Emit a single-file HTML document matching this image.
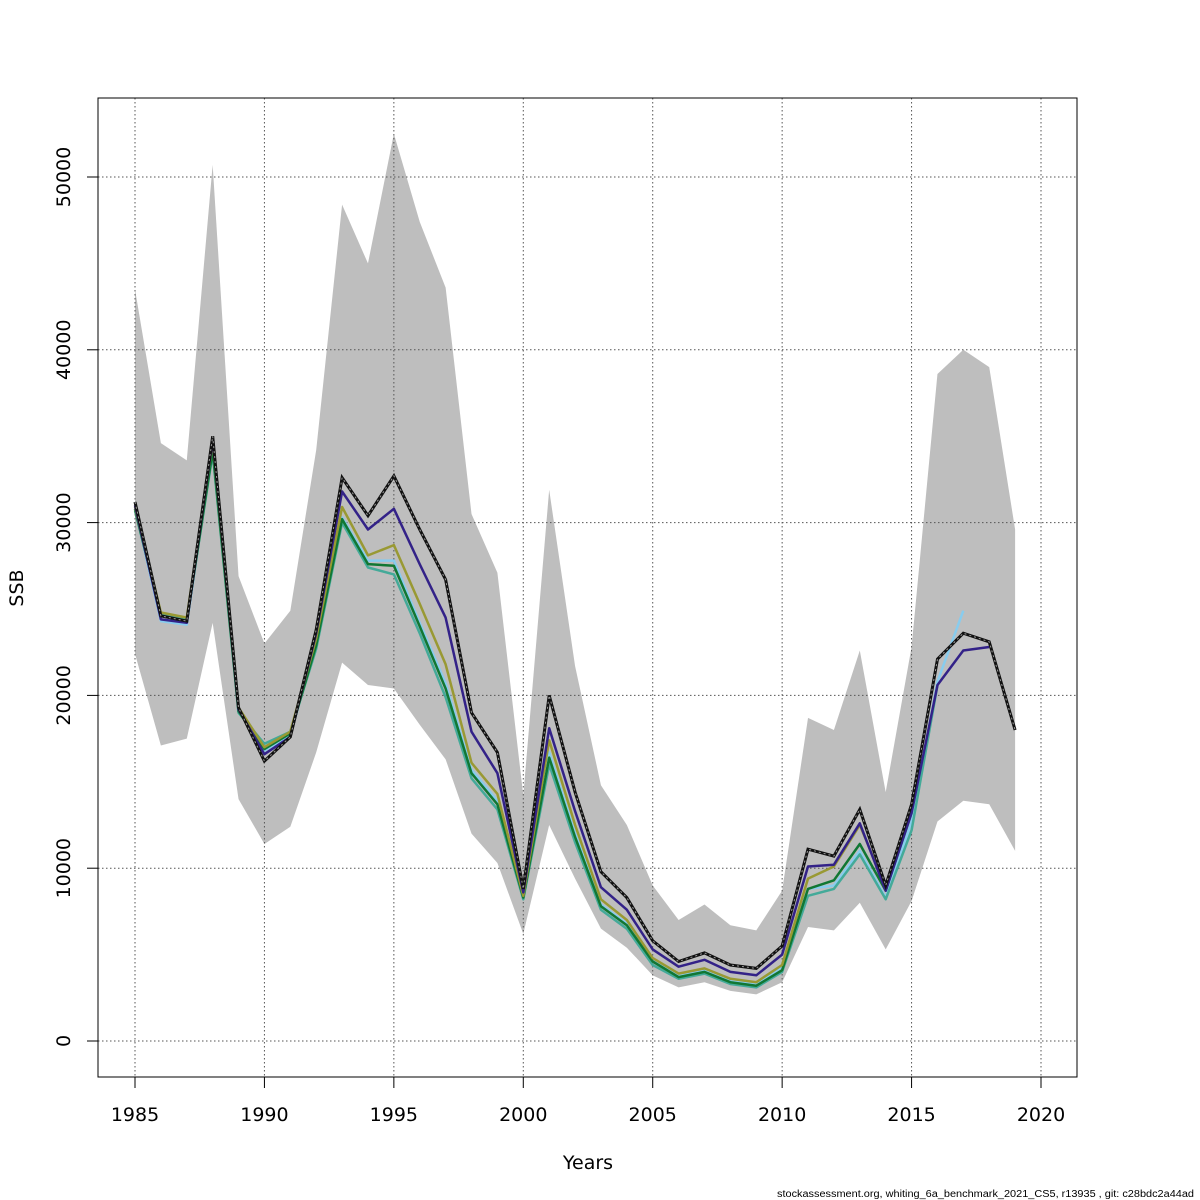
<!DOCTYPE html>
<html><head><meta charset="utf-8"><style>
body{margin:0;background:#fff;}
svg{display:block;font-family:"DejaVu Sans","Liberation Sans",sans-serif;}
</style></head><body>
<svg id="chart" width="1200" height="1200" viewBox="0 0 1200 1200" xmlns="http://www.w3.org/2000/svg">
<rect width="1200" height="1200" fill="#fff"/>
<g id="band"></g>
<g id="grid"></g>
<g id="lines"></g>
<rect x="98" y="98" width="979" height="979" fill="none" stroke="#000" stroke-width="1"/>
<g id="axes"></g>
<text x="588" y="1169" font-size="19" text-anchor="middle">Years</text>
<text x="23" y="588" font-size="19" text-anchor="middle" transform="rotate(-90 23 588)">SSB</text>
<text x="777" y="1197" font-size="10" textLength="417" lengthAdjust="spacingAndGlyphs" font-family="Liberation Sans, sans-serif">stockassessment.org, whiting_6a_benchmark_2021_CS5, r13935 , git: c28bdc2a44ad</text>
</svg>
<script>
const years = [1985,1986,1987,1988,1989,1990,1991,1992,1993,1994,1995,1996,1997,1998,1999,2000,2001,2002,2003,2004,2005,2006,2007,2008,2009,2010,2011,2012,2013,2014,2015,2016,2017,2018,2019];
const upper = [43500,34600,33600,50700,26900,23000,24900,34200,48400,45000,52500,47400,43600,30500,27100,14200,31900,21700,14800,12500,9000,7000,7900,6700,6400,8700,18700,18000,22600,14400,22800,38600,40000,39000,29600];
const lower = [22400,17100,17500,24200,14000,11400,12400,16700,21900,20600,20400,18300,16300,12000,10300,6200,12500,9400,6500,5400,3800,3100,3400,2900,2700,3400,6600,6400,8000,5300,8100,12700,13900,13700,11000];
const ssbRef = [31200,24600,24300,35000,19300,16200,17600,23800,32600,30400,32700,29600,26700,19000,16700,8800,20000,14400,9800,8300,5800,4600,5100,4400,4200,5500,11100,10700,13400,9000,13700,22100,23600,23100,18000];
const ssbPeel1 = [31000,24400,24200,34800,19200,16600,17600,23600,31800,29600,30800,27600,24500,17900,15500,8600,18100,13300,8900,7600,5300,4300,4700,4000,3800,5000,10100,10200,12600,8700,13200,20600,22600,22800];
const ssbPeel2 = [30800,24300,24100,34400,19100,16800,17700,23000,30300,27800,27800,24200,20700,15700,13900,8400,16700,12000,7900,6800,4700,3800,4100,3500,3300,4300,8800,9000,11000,8300,12700,20800,24900];
const ssbPeel3 = [30700,24700,24400,34000,19000,17200,17900,22700,30000,27400,27000,23600,19900,15200,13400,8200,16000,11500,7600,6500,4400,3600,3900,3300,3100,4000,8400,8800,10800,8200,12200,20600];
const ssbPeel4 = [30800,24600,24300,34200,19100,16900,17800,22900,30200,27600,27500,24000,20400,15500,13700,8300,16400,11800,7800,6700,4600,3700,4000,3400,3200,4100,8800,9300,11400,8700,13200];
const ssbPeel5 = [30900,24800,24500,34700,19300,17000,17900,23300,30900,28100,28700,25300,21800,16100,14300,8400,17400,12500,8200,7000,4800,3900,4200,3600,3400,4400,9400,10100,12500,8900];
const xTicks = [1985,1990,1995,2000,2005,2010,2015,2020];
const yTicks = [0,10000,20000,30000,40000,50000];

const NS="http://www.w3.org/2000/svg";
function x(v){return 135+(v-1985)*(906/35);}
function y(v){return 1041-v*(864/50000);}
function mk(tag,attrs,parent){const e=document.createElementNS(NS,tag);for(const k in attrs)e.setAttribute(k,attrs[k]);parent.appendChild(e);return e;}

const band=document.getElementById('band');
let pts=years.map((yr,i)=>x(yr)+','+y(upper[i]));
for(let i=years.length-1;i>=0;i--)pts.push(x(years[i])+','+y(lower[i]));
const poly=mk('polygon',{points:pts.join(' '),fill:'#bebebe',stroke:'none'},band);



const grid=document.getElementById('grid');
const axes=document.getElementById('axes');
xTicks.forEach(t=>{
  const l=mk('line',{x1:x(t),x2:x(t),y1:98,y2:1077,stroke:'#555','stroke-width':1,'stroke-dasharray':'1.5,2.5'},grid);
  
  
  mk('line',{x1:x(t),x2:x(t),y1:1077,y2:1088,stroke:'#000'},axes);
  const tx=mk('text',{x:x(t),y:1121,'font-size':19,'text-anchor':'middle'},axes);
  tx.textContent=t;
  
  
});
yTicks.forEach(t=>{
  const l=mk('line',{x1:98,x2:1077,y1:y(t),y2:y(t),stroke:'#555','stroke-width':1,'stroke-dasharray':'1.5,2.5'},grid);
  
  
  mk('line',{x1:87,x2:98,y1:y(t),y2:y(t),stroke:'#000'},axes);
  const tx=mk('text',{x:70,y:y(t),'font-size':19,'text-anchor':'middle',transform:'rotate(-90 70 '+y(t)+')'},axes);
  tx.textContent=t;
  
  
});

const lines=document.getElementById('lines');
function path(arr){return arr.map((v,i)=>(i?'L':'M')+x(years[i]).toFixed(1)+','+y(v).toFixed(1)).join(' ');}
const series=[[ssbPeel2,'#88ccee','peel-2-line'],[ssbPeel3,'#44aa99','peel-3-line'],[ssbPeel4,'#117733','peel-4-line'],[ssbPeel5,'#999933','peel-5-line'],[ssbPeel1,'#332288','peel-1-line']];
series.forEach(s=>{
  const p=mk('path',{d:path(s[0]),fill:'none',stroke:s[1],'stroke-width':2.5,'stroke-linejoin':'round'},lines);
  
  
});
const r1=mk('path',{d:path(ssbRef),fill:'none',stroke:'#111','stroke-width':3},lines);


const r2=mk('path',{d:path(ssbRef),fill:'none',stroke:'#999','stroke-width':1,'stroke-dasharray':'2,3'},lines);


</script>
</body></html>
